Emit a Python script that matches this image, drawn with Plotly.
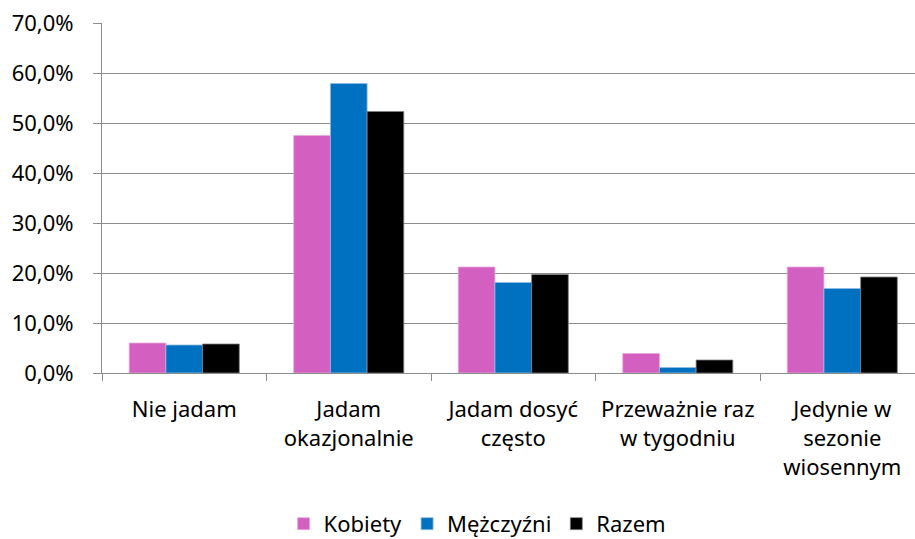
import plotly.graph_objects as go

categories = ["Nie jadam", "Jadam<br>okazjonalnie", "Jadam dosyć<br>często",
              "Przeważnie raz<br>w tygodniu", "Jedynie w<br>sezonie<br>wiosennym"]
kobiety = [0.060, 0.475, 0.212, 0.039, 0.212]
mezczyzni = [0.056, 0.579, 0.181, 0.011, 0.169]
razem = [0.058, 0.523, 0.197, 0.026, 0.192]
series_names = ["Kobiety", "Mężczyźni", "Razem"]
y_ticks = [0, 0.1, 0.2, 0.3, 0.4, 0.5, 0.6, 0.7]

colors = ["#D35FC1", "#0070C0", "#000000"]
edge = ["#E9A9DE", "#8FBDE3", "#7F7F7F"]

fig = go.Figure()
for name, vals, c, e in zip(series_names, [kobiety, mezczyzni, razem], colors, edge):
    fig.add_trace(go.Bar(x=categories, y=vals, name=name,
                         marker=dict(color=c, line=dict(color=e, width=0.8))))

FONT = "Noto Sans"
fig.update_layout(
    width=915, height=539,
    margin=dict(l=102, r=0, t=23, b=166, autoexpand=False),
    paper_bgcolor="white", plot_bgcolor="white",
    separators=", ",
    barmode="group", bargap=0.331, bargroupgap=0,
    font=dict(family=FONT, color="black", size=22),
    legend=dict(orientation="h", x=0.462, xanchor="center", y=-0.431, yanchor="middle",
                font=dict(size=22, family=FONT), itemwidth=30, traceorder="normal"),
    showlegend=True,
)
fig.update_yaxes(range=[0, 0.7], tickvals=y_ticks, tickformat=".1%",
                 showgrid=True, gridcolor="#8C8C8C", gridwidth=1,
                 showline=True, linecolor="#8C8C8C", linewidth=1,
                 ticks="outside", ticklen=8, tickcolor="#8C8C8C",
                 tickfont=dict(size=22, family=FONT), ticklabelstandoff=15,
                 zeroline=False, automargin=False)
fig.update_xaxes(range=[-0.5, 4.442], showline=True, linecolor="#8C8C8C", linewidth=1,
                 ticks="outside", ticklen=7, tickcolor="#8C8C8C", tickson="boundaries",
                 tickfont=dict(size=22, family=FONT), ticklabelstandoff=17,
                 showgrid=False, automargin=False)

fig.write_html("out.html", config={"displayModeBar": False},
               post_script="document.body.style.margin='0';document.body.style.overflow='hidden';")
